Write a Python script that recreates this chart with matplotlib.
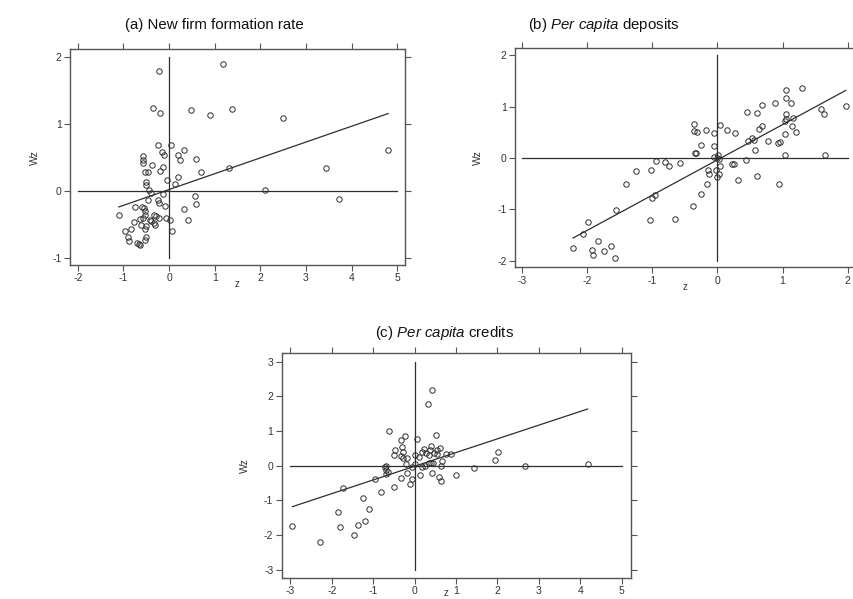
import matplotlib
matplotlib.use("Agg")
import matplotlib.pyplot as plt
import numpy as np

plt.rcParams['font.family'] = ['Liberation Sans', 'DejaVu Sans']
plt.rcParams['mathtext.fontset'] = 'custom'
plt.rcParams['mathtext.rm'] = 'Liberation Sans'
plt.rcParams['mathtext.it'] = 'Liberation Sans:italic'

# ---------------- data ----------------
# (a) New firm formation rate
a_z = [-0.21, -0.36, -0.20, 0.49, 0.90, -0.24, 0.04, 0.33, -0.15, -0.11, 0.19, -0.56, -0.58, -0.56,
       0.24, 0.58, -0.37, -0.13, -0.19, 0.70, -0.52, -0.47, 0.20, -0.05, -0.50, -0.51, 0.13, -0.43,
       -0.39, -0.14, 0.56, -0.47, -0.25, -0.21, 0.58, -0.09, -0.75, -0.59, -0.54, -0.52, 0.33, -1.10,
       -0.52, -0.32, -0.28, -0.56, -0.23, -0.06, 0.03, -0.63, -0.42, -0.39, -0.32, -0.30, 0.41, -0.76,
       -0.62, -0.50, -0.53, -0.84, -0.96, 0.07, -0.90, -0.87, -0.50, -0.53, -0.70, -0.66, -0.63,
       1.19, 1.37, 2.50, 4.80, 1.31, 3.43, 2.10, 3.73]
a_wz = [1.80, 1.24, 1.17, 1.21, 1.14, 0.69, 0.69, 0.61, 0.58, 0.53, 0.54, 0.52, 0.46, 0.42,
        0.46, 0.48, 0.39, 0.36, 0.30, 0.29, 0.28, 0.29, 0.21, 0.16, 0.13, 0.09, 0.10, 0.02,
        -0.03, -0.04, -0.08, -0.14, -0.14, -0.18, -0.19, -0.22, -0.24, -0.24, -0.25, -0.30, -0.27, -0.36,
        -0.36, -0.36, -0.37, -0.40, -0.40, -0.40, -0.43, -0.42, -0.43, -0.45, -0.48, -0.51, -0.43, -0.47,
        -0.51, -0.53, -0.57, -0.57, -0.60, -0.60, -0.69, -0.75, -0.69, -0.74, -0.78, -0.79, -0.81,
        1.90, 1.23, 1.085, 0.61, 0.34, 0.34, 0.01, -0.12]

# (b) Per capita deposits
b_z = [-0.94, -1.25, -1.02, -1.41, -0.96, -1.01, -1.56, -1.03, -1.99, -2.06, -2.22, -1.84, -1.93,
       -1.91, -1.74, -1.64, -1.57,
       1.05, 1.30, 1.05, 1.13, 0.89, 0.69, 0.46, 0.60, 1.59, 1.64, 1.97, 1.05, 1.06, 1.16, 1.04,
       1.15, 1.20, 1.03, 0.69, 0.64, 0.77, 0.53, 0.56, 0.47, 0.93, 0.96, 0.58, 0.44, 1.04, 1.65,
       0.61, 0.95, 0.31, 0.25, 0.23, 0.27, 0.15, 0.04, -0.05, -0.18, -0.36, -0.36, -0.32, -0.26,
       -0.06, -0.34, -0.33, -0.05, 0.01, 0.00, 0.03, 0.04, -0.02, 0.02, 0.00, -0.15, -0.13, -0.16,
       -0.26, -0.38, -0.65, -0.80, -0.75, -0.58]
b_wz = [-0.05, -0.25, -0.24, -0.51, -0.72, -0.77, -1.02, -1.21, -1.25, -1.48, -1.75, -1.62, -1.79,
        -1.89, -1.81, -1.71, -1.95,
        1.32, 1.37, 1.18, 1.08, 1.07, 1.03, 0.89, 0.87, 0.96, 0.85, 1.01, 0.85, 0.77, 0.78, 0.72,
        0.63, 0.51, 0.47, 0.62, 0.56, 0.34, 0.39, 0.35, 0.33, 0.29, 0.31, 0.15, -0.03, 0.05, 0.05,
        -0.35, -0.50, -0.42, -0.11, -0.12, 0.48, 0.54, 0.64, 0.48, 0.55, 0.66, 0.53, 0.51, 0.25,
        0.24, 0.10, 0.10, 0.03, 0.05, 0.01, -0.01, -0.15, -0.24, -0.32, -0.37, -0.23, -0.32, -0.51,
        -0.70, -0.93, -1.18, -0.08, -0.16, -0.09]

# (c) Per capita credits
c_z = [-2.95, -2.28, -1.74, -1.84, -1.79, -1.46, -1.37, -1.20, -1.11, -1.24, -0.96, -0.81, -0.71,
       -0.68, -0.69, -0.64, -0.70, -0.62, -0.50, -0.47, -0.49, -0.33, -0.23, -0.30, -0.27, -0.32,
       -0.27, -0.19, -0.32, -0.20, -0.19, -0.10, -0.06, -0.07, 0.00, 0.02, 0.07, 0.11, 0.13, 0.19,
       0.19, 0.23, 0.27, 0.26, 0.33, 0.41, 0.35, 0.37, 0.39, 0.34, 0.39, 0.43, 0.45, 0.52, 0.48,
       0.55, 0.62, 0.58, 0.64, 0.64, 0.66, 0.77, 0.89, 1.01, 0.53,
       1.43, 1.95, 2.02, 2.67, 4.18]
c_wz = [-1.73, -2.20, -0.63, -1.34, -1.76, -2.00, -1.72, -1.59, -1.26, -0.93, -0.38, -0.77, -0.03,
        -0.01, -0.11, -0.19, -0.24, 0.99, -0.61, 0.45, 0.30, 0.75, 0.85, 0.54, 0.41, 0.28,
        0.23, 0.23, -0.34, 0.04, -0.20, -0.53, -0.37, -0.05, 0.30, 0.05, 0.76, 0.24, -0.27, 0.40,
        -0.05, 0.47, 0.36, -0.01, 1.79, 2.17, 0.30, 0.45, 0.57, 0.07, 0.09, -0.20, 0.09, 0.88, 0.38,
        0.45, 0.50, -0.32, 0.00, -0.43, 0.14, 0.33, 0.33, -0.26, 0.34,
        -0.06, 0.17, 0.41, -0.02, 0.05]

titles = ["(a) New firm formation rate",
          r"(b) $\it{Per\ capita}$ deposits",
          r"(c) $\it{Per\ capita}$ credits"]
slopes = [0.237, 0.687, 0.395]
intercepts = [0.02, -0.035, -0.015]

# ---------------- layout ----------------
W, H = 854, 599
fig = plt.figure(figsize=(W / 100, H / 100), dpi=100)
fig.patch.set_facecolor('white')

def add_ax(l, t, r, b):
    return fig.add_axes([l / W, 1 - b / H, (r - l) / W, (b - t) / H])

INK = '#2e2e2e'
SP = '#555555'

panels = [
    dict(box=(70, 49.3, 405, 265), xlim=(-2.17, 5.17), ylim=(-1.11, 2.12),
         xt=range(-2, 6), yt=range(-1, 3), z=a_z, wz=a_wz,
         title_xy=(214, 24.5), ylab_xy=(35, 158), xlab_xy=(237, 284), xlab_va='center'),
    dict(box=(515, 48.3, 870, 267.3), xlim=(-3.11, (870 - 717.7) / 65), ylim=(-2.13, 2.14),
         xt=range(-3, 3), yt=range(-2, 3), z=b_z, wz=b_wz,
         title_xy=(604, 24.5), ylab_xy=(478, 158), xlab_xy=(685, 287), xlab_va='center'),
    dict(box=(281.7, 352.7, 630.7, 577.7), xlim=(-3.21, 5.22), ylim=(-3.23, 3.26),
         xt=range(-3, 6), yt=range(-3, 4), z=c_z, wz=c_wz,
         title_xy=(445, 333), ylab_xy=(245, 466), xlab_xy=(446, 596.5), xlab_va='baseline'),
]

for i, p in enumerate(panels):
    ax = add_ax(*p['box'])
    ax.set_xlim(*p['xlim'])
    ax.set_ylim(*p['ylim'])
    xt = list(p['xt']); yt = list(p['yt'])
    ax.set_xticks(xt); ax.set_yticks(yt)
    ax.set_xticklabels([str(v) for v in xt])
    ax.set_yticklabels([str(v) for v in yt])
    ax.tick_params(direction='out', length=4, width=0.8, color=SP, labelsize=7.5,
                   labelcolor='#333333', top=True, right=True, pad=2)
    for s in ax.spines.values():
        s.set_color(SP); s.set_linewidth(1.0)
    # reference lines
    ax.plot([xt[0], xt[-1]], [0, 0], color=INK, lw=0.9)
    ax.plot([0, 0], [yt[0], yt[-1]], color=INK, lw=0.9)
    # regression line over the data range
    z = np.array(p['z']); wz = np.array(p['wz'])
    xs = np.array([z.min(), z.max()])
    ax.plot(xs, intercepts[i] + slopes[i] * xs, color=INK, lw=0.9)
    ax.plot(z, wz, 'o', mfc='none', mec=INK, ms=3.9, mew=0.7)
    fig.text(p['title_xy'][0] / W, 1 - p['title_xy'][1] / H, titles[i],
             ha='center', va='center', fontsize=10.8, color='#111111')
    fig.text(p['ylab_xy'][0] / W, 1 - p['ylab_xy'][1] / H, 'Wz', rotation=90,
             ha='center', va='center', fontsize=7.5, color='#333333')
    fig.text(p['xlab_xy'][0] / W, 1 - p['xlab_xy'][1] / H, 'z',
             ha='center', va=p['xlab_va'], fontsize=7, color='#333333')

fig.savefig('out.png', dpi=100, facecolor='white')
